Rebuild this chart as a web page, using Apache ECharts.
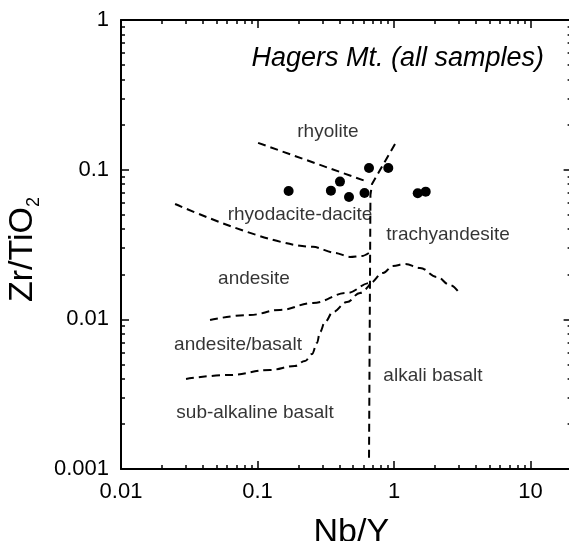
<!DOCTYPE html>
<html><head><meta charset="utf-8">
<script src="https://cdn.jsdelivr.net/npm/echarts@6/dist/echarts.min.js"></script>
<style>html,body{margin:0;padding:0;background:#fff;overflow:hidden}#c{width:569px;height:541px}</style>
</head><body><div id="c"></div>
<script>
// Sample points (Nb/Y, Zr/TiO2)
const sampleNbY  = [0.169, 0.345, 0.402, 0.468, 0.608, 0.656, 0.908, 1.492, 1.707];
const sampleZrTi = [0.0721, 0.0724, 0.0832, 0.0657, 0.0699, 0.1026, 0.1026, 0.0696, 0.0713];

// Field boundaries
const rhyoliteX = [0.101, 0.645];
const rhyoliteY = [0.151, 0.0828];
const alkaliX = [1.017, 0.690, 0.672, 0.656];
const alkaliY = [0.1484, 0.0802, 0.0678, 0.00117];
const dacX = [0.0249, 0.255, 0.3696, 0.476, 0.583, 0.672];
const dacY = [0.059, 0.0305, 0.0278, 0.0261, 0.0265, 0.0282];
const andX = [0.0449, 0.0881, 0.1462, 0.255, 0.4526, 0.667, 0.831, 0.983, 1.204, 1.55, 2.065, 2.572, 3.045];
const andY = [0.00991, 0.0107, 0.01156, 0.01287, 0.0150, 0.0175, 0.0204, 0.02273, 0.02344, 0.02205, 0.0192, 0.01697, 0.01478];
const basX = [0.02995, 0.0629, 0.1235, 0.1882, 0.2228, 0.2508, 0.2729, 0.287, 0.3122, 0.3573, 0.4526, 0.5636, 0.667];
const basY = [0.0040, 0.00425, 0.00459, 0.00488, 0.00527, 0.00587, 0.00696, 0.00823, 0.00961, 0.0112, 0.01307, 0.0150, 0.01724];

// Field names and anchor values
const fieldNames = ['rhyolite', 'rhyodacite-dacite', 'trachyandesite', 'andesite', 'andesite/basalt', 'sub-alkaline basalt', 'alkali basalt'];
const fieldX = [0.328, 0.205, 2.49, 0.0943, 0.072, 0.0959, 1.93];
const fieldY = [0.1786, 0.0498, 0.0366, 0.01862, 0.00675, 0.00237, 0.00419];

// Ticks
const xMajor = [0.01, 0.1, 1, 10];
const xMinor = [0.02,0.03,0.04,0.05,0.06,0.07,0.08,0.09,0.2,0.3,0.4,0.5,0.6,0.7,0.8,0.9,2,3,4,5,6,7,8,9];
const yMajor = [0.001, 0.01, 0.1, 1];
const yMinor = [0.002,0.003,0.004,0.005,0.006,0.007,0.008,0.009,0.02,0.03,0.04,0.05,0.06,0.07,0.08,0.09,0.2,0.3,0.4,0.5,0.6,0.7,0.8,0.9];
const xLabels = ['0.01', '0.1', '1', '10'];
const yLabels = ['0.001', '0.01', '0.1', '1'];

const FONT = 'Liberation Sans, Arial, sans-serif';
const zip = (a, b) => a.map((v, i) => [v, b[i]]);

function axis(kind, pos, major, withLine, withLabels, extra) {
  const isX = kind === 'x';
  const o = {
    type: 'log', logBase: 10,
    min: isX ? 0.01 : 0.001, max: isX ? 20 : 1,
    position: pos,
    splitLine: { show: false },
    axisLine: { show: withLine, lineStyle: { color: '#000', width: 2 } },
    axisTick: { show: true, inside: true, length: major ? 8 : 4,
      lineStyle: { color: '#000', width: 1.5 },
      customValues: major ? (isX ? xMajor : yMajor) : (isX ? xMinor : yMinor) },
    axisLabel: { show: withLabels }
  };
  if (withLabels) {
    const vals = isX ? xMajor : yMajor, labs = isX ? xLabels : yLabels;
    o.axisLabel = { show: true, customValues: vals, color: '#000', fontSize: 22, fontFamily: FONT,
      margin: 12, formatter: v => { const i = vals.findIndex(t => Math.abs(Math.log10(t) - Math.log10(v)) < 1e-6); return i >= 0 ? labs[i] : ''; } };
  }
  return Object.assign(o, extra || {});
}

const chart = echarts.init(document.getElementById('c'));
const dashed = { color: '#000', width: 2, type: [8, 5] };
const line = (xs, ys, smooth) => ({ type: 'line', data: zip(xs, ys), symbol: 'none', smooth: smooth, smoothMonotone: 'x', lineStyle: dashed, silent: true, z: 3 });

chart.setOption({
  animation: false,
  backgroundColor: '#fff',
  title: { text: 'Hagers Mt. (all samples)', right: 20, top: 40,
    textStyle: { fontFamily: FONT, fontStyle: 'italic', fontWeight: 'normal', fontSize: 27, color: '#000' } },
  grid: { left: 121, top: 20, width: 450.6, height: 449, containLabel: false, outerBoundsMode: 'none' },
  xAxis: [
    axis('x', 'bottom', true, true, true, {
      name: 'Nb/Y', nameLocation: 'middle', nameGap: 47,
      nameTextStyle: { fontFamily: FONT, fontSize: 34, color: '#000', padding: [0, 0, 0, 10] } }),
    axis('x', 'bottom', false, false, false),
    axis('x', 'top', true, true, false),
    axis('x', 'top', false, false, false)
  ],
  yAxis: [
    axis('y', 'left', true, true, true, {
      name: '{a|Zr/TiO}{b|2}', nameLocation: 'middle', nameGap: 73, nameRotate: 90,
      nameTextStyle: { fontFamily: FONT, color: '#000', padding: [0, 10, 0, 0],
        rich: { a: { fontFamily: FONT, fontSize: 34, lineHeight: 40, verticalAlign: 'middle', color: '#000' },
                b: { fontFamily: FONT, fontSize: 18, lineHeight: 14, verticalAlign: 'bottom', color: '#000' } } } }),
    axis('y', 'left', false, false, false),
    axis('y', 'right', true, true, false),
    axis('y', 'right', false, false, false)
  ],
  series: [
    line(rhyoliteX, rhyoliteY, false),
    line(alkaliX, alkaliY, false),
    line(dacX, dacY, 0.3),
    line(andX, andY, 0.4),
    line(basX, basY, 0.4),
    { type: 'scatter', data: zip(sampleNbY, sampleZrTi), symbol: 'circle', symbolSize: 10,
      itemStyle: { color: '#000', opacity: 1 }, z: 5 },
    { type: 'scatter', data: fieldX.map((x, i) => ({ value: [x, fieldY[i]], name: fieldNames[i] })),
      symbolSize: 0, silent: true, z: 4,
      label: { show: true, position: 'inside', formatter: p => p.name, color: '#000', fontSize: 19, fontFamily: FONT } }
  ]
});
</script></body></html>
